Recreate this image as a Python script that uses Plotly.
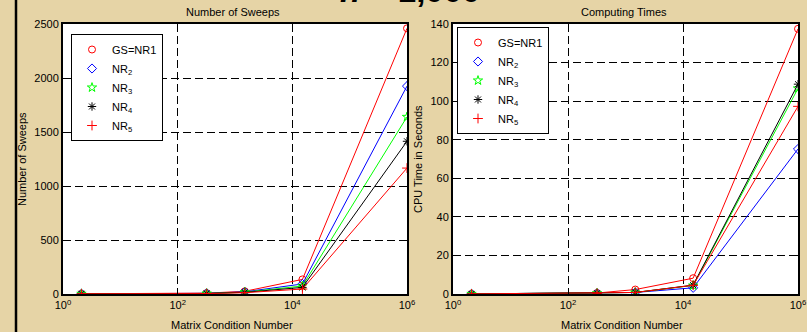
import plotly.graph_objects as go

# ---- data ----
cond_numbers = [2.1, 320, 1480, 15000, 1e6]
series_names = ["GS=NR1", "NR<sub>2</sub>", "NR<sub>3</sub>", "NR<sub>4</sub>", "NR<sub>5</sub>"]
sweeps_gs = [2, 8, 25, 135, 2460]
sweeps_nr2 = [2, 6, 20, 93, 1925]
sweeps_nr3 = [2, 5, 17, 74, 1640]
sweeps_nr4 = [2, 5, 15, 61, 1414]
sweeps_nr5 = [2, 4, 12, 46, 1166]
cpu_gs = [0.05, 0.5, 2.3, 8.2, 137.5]
cpu_nr2 = [0.05, 0.4, 0.8, 3.2, 75.2]
cpu_nr3 = [0.05, 0.4, 0.8, 4.4, 106.6]
cpu_nr4 = [0.05, 0.4, 0.8, 4.6, 108.8]
cpu_nr5 = [0.05, 0.4, 0.8, 4.5, 97.3]
x_tickvals = [1, 1e2, 1e4, 1e6]
x_ticktext = ["10<sup>0</sup>", "10<sup>2</sup>", "10<sup>4</sup>", "10<sup>6</sup>"]
sweeps_ticks = [0, 500, 1000, 1500, 2000, 2500]
cpu_ticks = [0, 20, 40, 60, 80, 100, 120, 140]

colors = ["#FF0000", "#0000FF", "#00FF00", "#000000", "#FF0000"]
symbols = ["circle-open", "diamond-open", "star-open", "asterisk-open", "cross-thin-open"]

FONT = "Arial, Liberation Sans, sans-serif"
W, H = 807, 332

fig = go.Figure()

sweeps = [sweeps_gs, sweeps_nr2, sweeps_nr3, sweeps_nr4, sweeps_nr5]
cpu = [cpu_gs, cpu_nr2, cpu_nr3, cpu_nr4, cpu_nr5]

for i in range(5):
    mk = dict(symbol=symbols[i], size=7, color=colors[i], line=dict(color=colors[i], width=1))
    fig.add_trace(go.Scatter(x=cond_numbers, y=sweeps[i], mode="lines+markers",
                             line=dict(color=colors[i], width=1), marker=mk,
                             showlegend=False, xaxis="x", yaxis="y"))
    fig.add_trace(go.Scatter(x=cond_numbers, y=cpu[i], mode="lines+markers",
                             line=dict(color=colors[i], width=1), marker=mk,
                             showlegend=False, xaxis="x2", yaxis="y2"))
for i in range(5):
    mk = dict(symbol=symbols[i], size=7, color=colors[i], line=dict(color=colors[i], width=1))
    fig.add_trace(go.Scatter(x=[None], y=[None], mode="markers", marker=mk, name=series_names[i],
                             legend="legend", xaxis="x", yaxis="y"))
    fig.add_trace(go.Scatter(x=[None], y=[None], mode="markers", marker=mk, name=series_names[i],
                             legend="legend2", xaxis="x2", yaxis="y2"))

ydom = [38 / H, 308 / H]
common_x = dict(type="log", range=[0, 6], tickvals=x_tickvals, ticktext=x_ticktext,
                showgrid=True, gridcolor="#000000", gridwidth=1, griddash="8px,4px",
                ticks="inside", ticklen=4, tickcolor="black", showline=True, linecolor="black",
                linewidth=2, mirror="ticks", zeroline=False, automargin=False,
                tickfont=dict(family=FONT, size=11, color="black"))
common_y = dict(showgrid=True, gridcolor="#000000", gridwidth=1, griddash="8px,4px",
                ticks="inside", ticklen=4, tickcolor="black", showline=True, linecolor="black",
                linewidth=2, mirror="ticks", zeroline=False, automargin=False,
                tickfont=dict(family=FONT, size=11, color="black"))

fig.update_layout(
    width=W, height=H, autosize=False,
    margin=dict(l=0, r=0, t=0, b=0),
    paper_bgcolor="#E6D4A6", plot_bgcolor="white",
    xaxis=dict(domain=[63 / W, 407 / W], anchor="y", **common_x),
    yaxis=dict(domain=ydom, anchor="x", range=[0, 2500], tickvals=sweeps_ticks, **common_y),
    xaxis2=dict(domain=[453 / W, 798 / W], anchor="y2", **common_x),
    yaxis2=dict(domain=ydom, anchor="x2", range=[0, 140], tickvals=cpu_ticks, **common_y),
    legend=dict(x=71 / W, y=1 - 34 / H, xanchor="left", yanchor="top", bgcolor="white",
                bordercolor="black", borderwidth=1, font=dict(family=FONT, size=11, color="black")),
    legend2=dict(x=457 / W, y=1 - 27 / H, xanchor="left", yanchor="top", bgcolor="white",
                 bordercolor="black", borderwidth=1, font=dict(family=FONT, size=11, color="black")),
    font=dict(family=FONT, size=11, color="black"),
)

ann_font = dict(family=FONT, size=11, color="black")
base = dict(xref="paper", yref="paper", showarrow=False, xanchor="center", yanchor="middle")
annotations = [
    dict(text="Number of Sweeps", x=233 / W, y=1 - 12 / H, font=ann_font, **base),
    dict(text="Computing Times", x=624 / W, y=1 - 12 / H, font=ann_font, **base),
    dict(text="Matrix Condition Number", x=232 / W, y=7 / H, font=ann_font, **base),
    dict(text="Matrix Condition Number", x=622 / W, y=7 / H, font=ann_font, **base),
    dict(text="Number of Sweeps", x=22 / W, y=1 - 159 / H, textangle=-90, font=ann_font, **base),
    dict(text="CPU Time in Seconds", x=418 / W, y=1 - 159 / H, textangle=-90, font=ann_font, **base),
    dict(text="<b><i>n</i> = 1,000</b>", x=410 / W, y=1 - 11 / H, xref="paper", yref="paper",
         xanchor="center", yanchor="bottom", showarrow=False,
         font=dict(family=FONT, size=33, color="black")),
]
fig.update_layout(annotations=annotations)

fig.add_shape(type="line", xref="paper", yref="paper", x0=16 / W, x1=16 / W, y0=0, y1=1,
              line=dict(color="black", width=2.5), layer="above")

fig.write_html("out.html", config={"displayModeBar": False},
               post_script="document.body.style.margin='0px';document.body.style.overflow='hidden';")
